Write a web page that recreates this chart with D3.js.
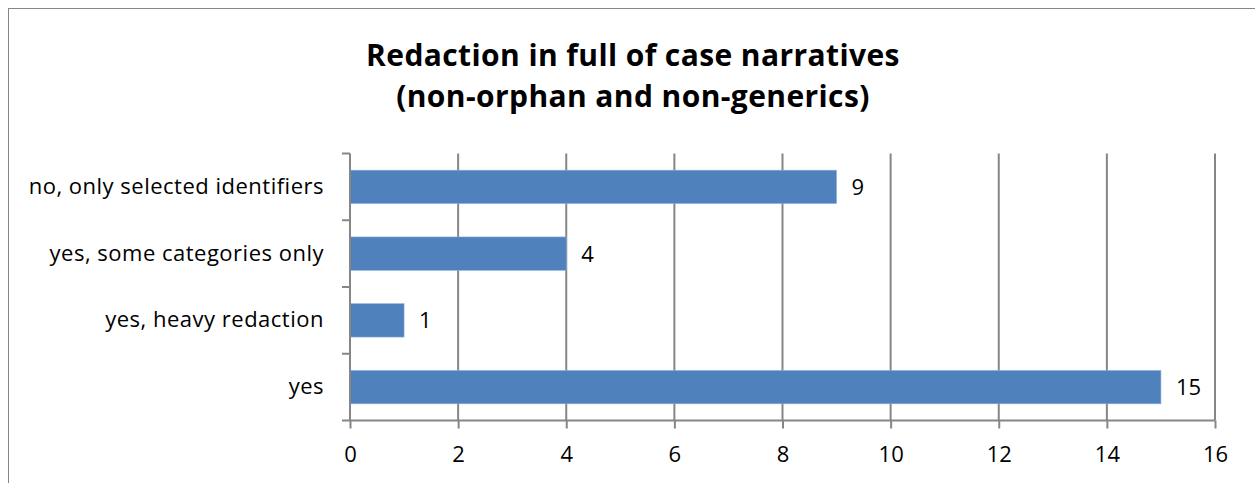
<!DOCTYPE html>
<html lang="en">
<head>
  <meta charset="UTF-8">
  <title>Redaction in full of case narratives</title>
  <style>
    body { margin: 0; background: #fff; }
    svg { display: block; font-family: "Open Sans", sans-serif; }
  </style>
</head>
<body>

  <svg id="svg" width="1255" height="483"></svg>

  <script src="https://cdn.jsdelivr.net/npm/d3@7"></script>
  <script>
    // chart data
    const categories = ['no, only selected identifiers', 'yes, some categories only', 'yes, heavy redaction', 'yes'];
    const counts = [9, 4, 1, 15];
    const xTicks = [0, 2, 4, 6, 8, 10, 12, 14, 16];
    const titleLines = ['Redaction in full of case narratives', '(non-orphan and non-generics)'];

    const svg = d3.select('#svg');
    const plot = { left: 350, right: 1215, top: 153.5, bottom: 420.5 };
    const font = '"Open Sans", sans-serif';
    const labelSize = 22;

    // outer chart frame (runs off right and bottom edge)
    svg.append('rect')
      .attr('x', 8.5).attr('y', 8.5)
      .attr('width', 1300).attr('height', 600)
      .attr('fill', 'none')
      .attr('stroke', '#868686')
      .attr('stroke-width', 1);

    svg.selectAll('.title')
      .data(titleLines)
      .enter()
      .append('text')
      .attr('x', 633)
      .attr('y', (d, i) => 66 + i * 41)
      .attr('text-anchor', 'middle')
      .attr('font-size', 30)
      .attr('font-weight', 'bold')
      .attr('letter-spacing', 0.4)
      .text(d => d);

    const x = d3.scaleLinear().domain([0, 16]).range([plot.left, plot.right]);
    const y = d3.scaleBand().domain(categories).range([plot.top, plot.bottom]).paddingInner(0.5).paddingOuter(0.25);

    // vertical gridlines
    svg.selectAll('.grid')
      .data(xTicks.slice(1))
      .enter()
      .append('line')
      .attr('x1', d => x(d)).attr('x2', d => x(d))
      .attr('y1', plot.top).attr('y2', plot.bottom)
      .attr('stroke', '#868686')
      .attr('stroke-width', 2);

    svg.selectAll('.bar')
      .data(counts)
      .enter()
      .append('rect')
      .attr('x', x(0))
      .attr('y', (d, i) => y(categories[i]))
      .attr('width', d => x(d) - x(0))
      .attr('height', y.bandwidth())
      .attr('fill', '#4f81bd')
      .attr('stroke', '#8eb0da')
      .attr('stroke-width', 0.6);

    svg.selectAll('.val')
      .data(counts)
      .enter()
      .append('text')
      .attr('x', d => x(d) + 15)
      .attr('y', (d, i) => y(categories[i]) + y.bandwidth() / 2)
      .attr('dy', '0.36em')
      .attr('font-size', labelSize)
      .text(d => d);

    // x axis
    const xAxis = svg.append('g')
      .attr('transform', `translate(0,${plot.bottom})`)
      .call(d3.axisBottom(x).tickValues(xTicks).tickSize(8).tickPadding(18).tickFormat(d3.format('d')));
    xAxis.select('.domain').attr('stroke', '#868686').attr('stroke-width', 2).attr('d', `M${plot.left - 8},0H${plot.right}`);
    xAxis.selectAll('.tick line').attr('stroke', '#868686').attr('stroke-width', 2);
    xAxis.selectAll('.tick text').attr('font-size', labelSize).attr('fill', '#000').attr('font-family', font);

    // y axis with ticks between categories
    const yAxis = svg.append('g')
      .attr('transform', `translate(${plot.left},0)`)
      .call(d3.axisLeft(y).tickSize(0).tickPadding(26));
    yAxis.select('.domain').attr('stroke', '#868686').attr('stroke-width', 2).attr('d', `M0,${plot.top}V${plot.bottom}`);
    yAxis.selectAll('.tick text').attr('font-size', labelSize).attr('fill', '#000').attr('font-family', font).attr('letter-spacing', 0.5);

    const step = (plot.bottom - plot.top) / categories.length;
    yAxis.selectAll('.sep')
      .data(d3.range(categories.length))
      .enter()
      .append('line')
      .attr('x1', -8).attr('x2', 0)
      .attr('y1', d => plot.top + d * step).attr('y2', d => plot.top + d * step)
      .attr('stroke', '#868686')
      .attr('stroke-width', 2);
  </script>
</body>
</html>
